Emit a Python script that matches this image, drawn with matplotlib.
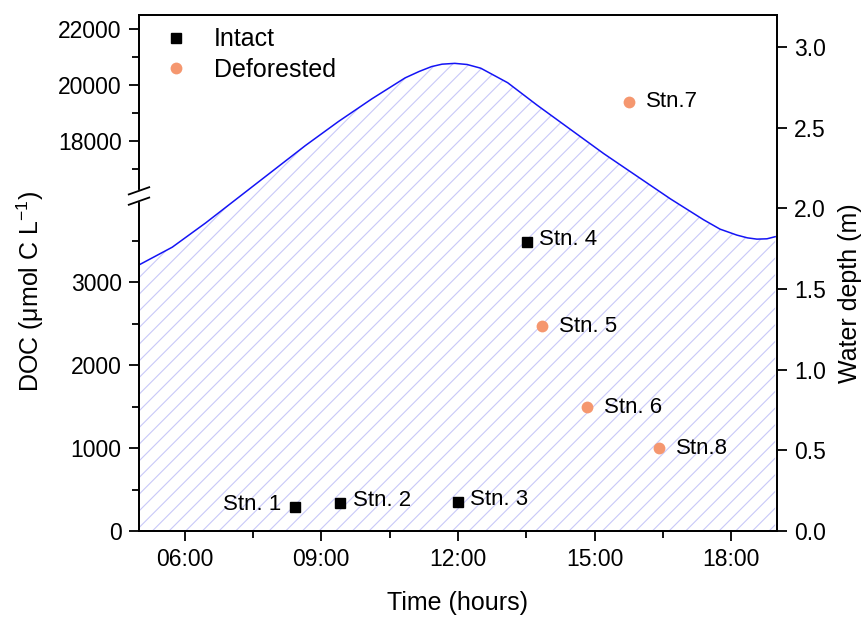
import numpy as np
import matplotlib

matplotlib.use("Agg")
import matplotlib.pyplot as plt
from matplotlib.lines import Line2D

plt.rcParams["font.family"] = ["Liberation Sans", "DejaVu Sans"]
plt.rcParams["mathtext.fontset"] = "custom"
plt.rcParams["mathtext.rm"] = "Liberation Sans"
plt.rcParams["mathtext.it"] = "Liberation Sans:italic"
plt.rcParams["hatch.linewidth"] = 0.8

# tide curve (time in hours, water depth in m)
tide_time = [5.00, 5.73, 6.46, 7.19, 7.92, 8.65, 9.38, 10.11, 10.84, 11.15, 11.42, 11.65,
             11.93, 12.20, 12.50, 13.09, 13.74, 14.47, 15.20, 15.93, 16.66, 17.39,
             17.75, 18.12, 18.35, 18.56, 18.78, 18.96]
tide_depth = [1.65, 1.76, 1.91, 2.07, 2.23, 2.39, 2.54, 2.68, 2.81, 2.85, 2.88, 2.895,
              2.90, 2.893, 2.87, 2.78, 2.64, 2.49, 2.34, 2.20, 2.06, 1.93,
              1.872, 1.835, 1.818, 1.81, 1.812, 1.825]

# DOC at stations
intact_time = [8.43, 9.42, 11.99, 13.51]
intact_doc = [285, 334, 346, 3486]
intact_names = ["Stn. 1", "Stn. 2", "Stn. 3", "Stn. 4"]

deforested_time = [13.85, 14.83, 15.75, 16.42]
deforested_doc = [2470, 1494, 19404, 996]
deforested_names = ["Stn. 5", "Stn. 6", "Stn.7", "Stn.8"]

x_major = [6, 9, 12, 15, 18]
x_major_labels = ["06:00", "09:00", "12:00", "15:00", "18:00"]
x_minor = [7.5, 10.5, 13.5, 16.5]
doc_major = [0, 1000, 2000, 3000, 18000, 20000, 22000]
doc_minor = [500, 1500, 2500, 3500, 17000, 19000, 21000]
depth_major = [0.0, 0.5, 1.0, 1.5, 2.0, 2.5, 3.0]

# broken DOC axis: lower 0-4040, upper 16040-22500
LOW_TOP, HIGH_BOTTOM, TOP = 4040, 16040, 22500
_v = np.array([-1e6, 0, LOW_TOP, HIGH_BOTTOM, TOP, 1e6])
_slope_lo = 335 / LOW_TOP
_slope_hi = 181 / (TOP - HIGH_BOTTOM)
_p = np.array([-1e6 * _slope_lo, 0, 335, 335.01, 516, 516 + (1e6 - TOP) * _slope_hi])


def fwd(v):
    return np.interp(v, _v, _p)


def inv(p):
    return np.interp(p, _p, _v)


def main():
    fig = plt.figure(figsize=(8.66, 6.17), dpi=100)
    ax = fig.add_axes([0.1605, 0.1394, 0.7367, 0.8363])
    ax2 = ax.twinx()

    # tide on the right axis
    ax2.fill_between(tide_time, 0, tide_depth, facecolor="none", edgecolor="#C8C8F8",
                     hatch="//", linewidth=0)
    ax2.plot(tide_time, tide_depth, color="#1414F5", lw=1.1)
    ax2.set_ylim(0, 3.2)
    ax2.set_yticks(depth_major)
    ax2.set_yticklabels([f"{d:.1f}" for d in depth_major])
    ax2.set_ylabel("Water depth (m)", fontsize=18)
    ax2.yaxis.set_label_coords(1.096, 0.46)

    ax.set_zorder(ax2.get_zorder() + 1)
    ax.patch.set_visible(False)

    ax.set_yscale("function", functions=(fwd, inv))
    ax.set_ylim(0, TOP)
    ax.set_xlim(5, 19)

    ax.plot(intact_time, intact_doc, ls="none", marker="s", ms=7, color="black")
    ax.plot(deforested_time, deforested_doc, ls="none", marker="o", ms=8.5,
            color="#F5976F", mec="none")

    for t, d, name in zip(intact_time, intact_doc, intact_names):
        if name == "Stn. 1":
            ax.annotate(name, (t, d), xytext=(-10, 2), textcoords="offset points",
                        ha="right", va="center", fontsize=16)
        else:
            ax.annotate(name, (t, d), xytext=(9, 2), textcoords="offset points",
                        ha="left", va="center", fontsize=16)
    for t, d, name in zip(deforested_time, deforested_doc, deforested_names):
        ax.annotate(name, (t, d), xytext=(12, 0), textcoords="offset points",
                    ha="left", va="center", fontsize=16)

    ax.set_xticks(x_major)
    ax.set_xticklabels(x_major_labels)
    ax.set_xticks(x_minor, minor=True)
    ax.set_yticks(doc_major)
    ax.set_yticklabels([str(v) for v in doc_major])
    ax.set_yticks(doc_minor, minor=True)

    ax.set_xlabel("Time (hours)", fontsize=18, labelpad=14)
    ax.set_ylabel("DOC (μmol C L$^{-1}$)", fontsize=18)
    ax.yaxis.set_label_coords(-0.145, 0.465)

    for a in (ax, ax2):
        for s in a.spines.values():
            s.set_linewidth(1.3)
        a.tick_params(which="both", direction="out", width=1.3, labelsize=16.5)
        a.tick_params(which="major", length=7.5, pad=5)
        a.tick_params(which="minor", length=5)
    ax.tick_params(top=False, right=False)
    ax2.tick_params(top=False, left=False)

    # axis break marks on the left spine
    yb = fwd(LOW_TOP) / 516
    ax.plot([0, 0], [yb - 0.008, yb + 0.008], transform=ax.transAxes, color="white",
            lw=3, clip_on=False, zorder=10)
    for dy in (-0.01, 0.01):
        ax.plot([-0.016, 0.016], [yb + dy - 0.007, yb + dy + 0.007], transform=ax.transAxes,
                color="black", lw=1.3, clip_on=False, zorder=11)

    handles = [
        Line2D([], [], ls="none", marker="s", ms=7, color="black"),
        Line2D([], [], ls="none", marker="o", ms=8.5, color="#F5976F", mec="none"),
    ]
    ax.legend(handles, ["Intact", "Deforested"], loc="upper left",
              bbox_to_anchor=(0.011, 1.005), frameon=False, fontsize=18,
              handlelength=1.2, handletextpad=0.9, labelspacing=0.25, borderaxespad=0.2)

    fig.savefig("out.png", dpi=100)
    plt.close(fig)


if __name__ == "__main__":
    main()
